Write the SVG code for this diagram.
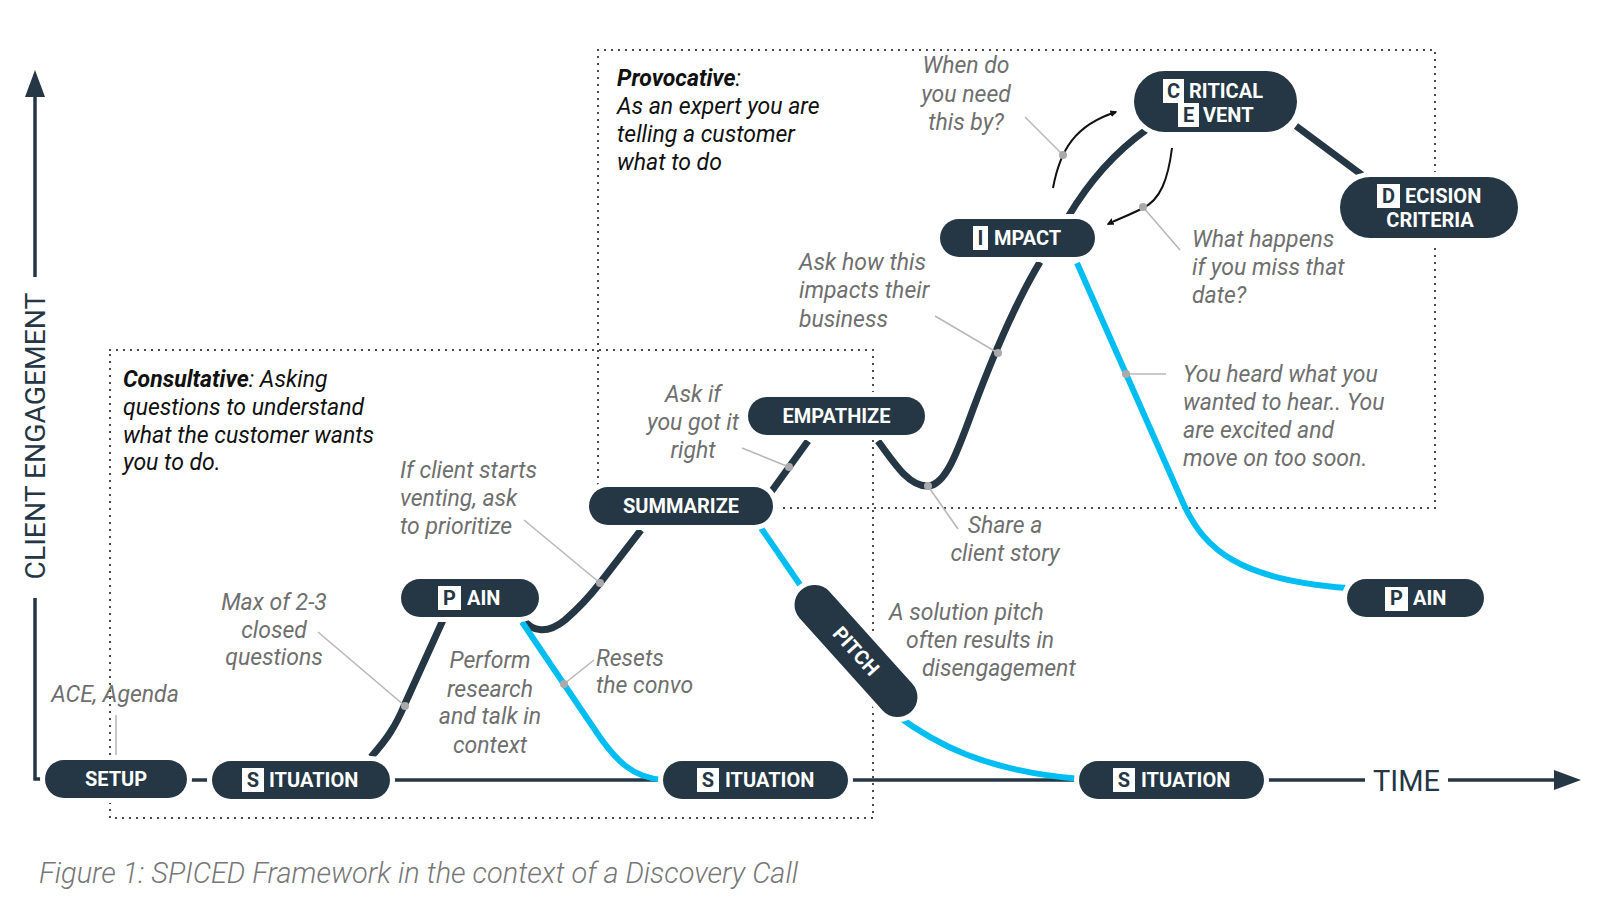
<svg xmlns="http://www.w3.org/2000/svg" width="1600" height="906" viewBox="0 0 1600 906">
<style>
.pill{fill:#253744;stroke:#fff;stroke-width:10;paint-order:stroke}
.pt{font-family:Roboto,"Liberation Sans",sans-serif;font-weight:700;font-size:20px;fill:#fff}
.c{text-anchor:middle}
.lb{fill:#fff}
.lt{font-family:Roboto,"Liberation Sans",sans-serif;font-weight:700;font-size:20px;fill:#253744;text-anchor:middle}
.dark{fill:none;stroke:#253744;stroke-width:7}
.cyan{fill:none;stroke:#00bef2;stroke-width:6}
.base{fill:none;stroke:#253744;stroke-width:3.5}
.lead{stroke:#b8b8b8;stroke-width:1.6;fill:none}
.dot{fill:#aaaaaa}
.ann{font-family:Roboto,"Liberation Sans",sans-serif;font-style:italic;font-size:23px;fill:#6f6f6f}
.blk{font-family:Roboto,"Liberation Sans",sans-serif;font-style:italic;font-size:23px;fill:#111}
.box{fill:none;stroke:#222;stroke-width:2.2;stroke-dasharray:0 7;stroke-linecap:round}
.thin{fill:none;stroke:#111;stroke-width:2}
</style>
<defs>
<marker id="ah" viewBox="0 0 10 10" refX="8" refY="5" markerWidth="7" markerHeight="7" orient="auto" markerUnits="userSpaceOnUse">
<path d="M0,0 L10,5 L0,10 z" fill="#111"/>
</marker>
</defs>
<rect width="1600" height="906" fill="#fff"/>

<g id="regions">
<rect class="box" x="110" y="350" width="763" height="468"/>
<rect class="box" x="598" y="50" width="837" height="458"/>
</g>

<g id="axes">
<path class="base" d="M45,779 H35 V598"/>
<path class="base" d="M35,277 V95"/>
<path d="M25,97 L35,70 L45,97 z" fill="#253744"/>
<text transform="translate(45,436) rotate(-90)" text-anchor="middle" font-family="Roboto,'Liberation Sans',sans-serif" font-size="28" fill="#253744" textLength="287" lengthAdjust="spacingAndGlyphs">CLIENT ENGAGEMENT</text>
<path class="base" d="M1264,780 H1365"/>
<path class="base" d="M1448,780 H1556"/>
<path d="M1554,770 L1581,780 L1554,790 z" fill="#253744"/>
<text x="1373" y="791" font-family="Roboto,'Liberation Sans',sans-serif" font-size="29" fill="#253744">TIME</text>
</g>

<g id="connectors">
<path class="base" d="M187,780 H1080"/>
<path class="dark" d="M371,757 C388,738 396,725 404,706 L443,620"/>
<path class="dark" d="M524,620 C532,632 548,634 565,620 C580,607 590,596 600,583 L641,530"/>
<path class="dark" d="M771,492 L808,441"/>
<path class="dark" d="M878,441 C896,466 910,487 928,486 C946,485 958,450 972,412 C985,377 1010,312 1040,262"/>
<path class="dark" d="M1068,217 Q1100,163 1146,130"/>
<path class="dark" d="M1296,126 L1362,175"/>
<path class="cyan" d="M522,622 L595,730 C615,760 632,778 664,780"/>
<path class="cyan" d="M761,528 L805,592"/>
<path class="cyan" d="M895,714 C935,744 985,771 1080,779"/>
<path class="cyan" d="M1077,263 L1184,505 C1205,550 1240,580 1348,588"/>
<path class="thin" d="M1053,188 C1060,150 1075,125 1116,112" marker-end="url(#ah)"/>
<path class="thin" d="M1172,148 C1168,180 1160,200 1143,208 C1130,215 1120,218 1108,224" marker-end="url(#ah)"/>
</g>

<g id="leaders">
<line class="lead" x1="116" y1="715" x2="116" y2="757"/>
<line class="lead" x1="318" y1="632" x2="405" y2="706"/>
<line class="lead" x1="524" y1="520" x2="600" y2="583"/>
<line class="lead" x1="594" y1="660" x2="564" y2="684"/>
<line class="lead" x1="742" y1="448" x2="789" y2="467"/>
<line class="lead" x1="935" y1="316" x2="998" y2="353"/>
<line class="lead" x1="928" y1="486" x2="958" y2="529"/>
<line class="lead" x1="1025" y1="117" x2="1063" y2="155"/>
<line class="lead" x1="1143" y1="207" x2="1180" y2="250"/>
<line class="lead" x1="1126" y1="374" x2="1166" y2="374"/>
<circle class="dot" cx="405" cy="706" r="4"/>
<circle class="dot" cx="600" cy="583" r="4"/>
<circle class="dot" cx="564" cy="684" r="4"/>
<circle class="dot" cx="789" cy="467" r="4"/>
<circle class="dot" cx="998" cy="353" r="4"/>
<circle class="dot" cx="928" cy="486" r="4"/>
<circle class="dot" cx="1063" cy="155" r="4"/>
<circle class="dot" cx="1143" cy="207" r="4"/>
<circle class="dot" cx="1126" cy="374" r="4"/>
</g>

<g id="setup"><rect class="pill" x="45" y="760" width="142" height="38" rx="19"/><text class="pt c" x="116" y="786">SETUP</text></g>
<g id="situation1"><rect class="pill" x="212" y="761" width="178" height="38" rx="19"/><rect class="lb" x="242" y="768" width="22" height="24"/><text class="lt" x="253" y="787">S</text><text class="pt" x="269" y="787">ITUATION</text></g>
<g id="pain1"><rect class="pill" x="401" y="579" width="138" height="38" rx="19"/><rect class="lb" x="438" y="586" width="23" height="24"/><text class="lt" x="449.5" y="605">P</text><text class="pt" x="467" y="605">AIN</text></g>
<g id="summarize"><rect class="pill" x="589" y="487" width="184" height="38" rx="19"/><text class="pt c" x="681" y="513">SUMMARIZE</text></g>
<g id="empathize"><rect class="pill" x="748" y="397" width="177" height="38" rx="19"/><text class="pt c" x="836.5" y="423">EMPATHIZE</text></g>
<g id="impact"><rect class="pill" x="940" y="219" width="155" height="38" rx="19"/><rect class="lb" x="973" y="226" width="15" height="24"/><text class="lt" x="980.5" y="245">I</text><text class="pt" x="994" y="245">MPACT</text></g>
<g id="critical-event"><rect class="pill" x="1134" y="71" width="163" height="61" rx="30.5"/><rect class="lb" x="1163" y="79" width="21" height="24"/><text class="lt" x="1173.5" y="98">C</text><text class="pt" x="1189" y="98">RITICAL</text><rect class="lb" x="1178" y="103" width="21" height="24"/><text class="lt" x="1188.5" y="122">E</text><text class="pt" x="1203" y="122">VENT</text></g>
<g id="decision-criteria"><rect class="pill" x="1340" y="177" width="178" height="61" rx="30.5"/><rect class="lb" x="1377" y="184" width="23" height="24"/><text class="lt" x="1388.5" y="203">D</text><text class="pt" x="1405" y="203">ECISION</text><text class="pt c" x="1430" y="227">CRITERIA</text></g>
<g id="situation2"><rect class="pill" x="663" y="761" width="185" height="38" rx="19"/><rect class="lb" x="697" y="768" width="22" height="24"/><text class="lt" x="708" y="787">S</text><text class="pt" x="725" y="787">ITUATION</text></g>
<g id="pitch" transform="translate(856,651) rotate(48)"><rect class="pill" x="-82" y="-20" width="164" height="40" rx="20"/><text class="pt c" x="0" y="7">PITCH</text></g>
<g id="situation3"><rect class="pill" x="1079" y="761" width="185" height="38" rx="19"/><rect class="lb" x="1113" y="768" width="22" height="24"/><text class="lt" x="1124" y="787">S</text><text class="pt" x="1141" y="787">ITUATION</text></g>
<g id="pain2"><rect class="pill" x="1347" y="579" width="137" height="38" rx="19"/><rect class="lb" x="1385" y="587" width="23" height="24"/><text class="lt" x="1396.5" y="605">P</text><text class="pt" x="1413" y="605">AIN</text></g>

<g id="annotations">
<text class="blk" x="123" y="387"><tspan font-weight="700">Consultative</tspan>: Asking</text>
<text class="blk" x="123" y="415">questions to understand</text>
<text class="blk" x="123" y="443">what the customer wants</text>
<text class="blk" x="123" y="470">you to do.</text>
<text class="blk" x="617" y="86"><tspan font-weight="700">Provocative</tspan>:</text>
<text class="blk" x="617" y="114">As an expert you are</text>
<text class="blk" x="617" y="142">telling a customer</text>
<text class="blk" x="617" y="170">what to do</text>
<text class="ann c" x="115" y="702">ACE, Agenda</text>
<text class="ann c" x="274" y="610">Max of 2-3</text>
<text class="ann c" x="274" y="638">closed</text>
<text class="ann c" x="274" y="665">questions</text>
<text class="ann" x="400" y="478">If client starts</text>
<text class="ann" x="400" y="506">venting, ask</text>
<text class="ann" x="400" y="534">to prioritize</text>
<text class="ann c" x="490" y="668">Perform</text>
<text class="ann c" x="490" y="697">research</text>
<text class="ann c" x="490" y="724">and talk in</text>
<text class="ann c" x="490" y="753">context</text>
<text class="ann" x="596" y="666">Resets</text>
<text class="ann" x="596" y="693">the convo</text>
<text class="ann c" x="693" y="402">Ask if</text>
<text class="ann c" x="693" y="430">you got it</text>
<text class="ann c" x="693" y="458">right</text>
<text class="ann c" x="1005" y="533">Share a</text>
<text class="ann c" x="1005" y="561">client story</text>
<text class="ann" x="889" y="620">A solution pitch</text>
<text class="ann" x="906" y="648">often results in</text>
<text class="ann" x="922" y="676">disengagement</text>
<text class="ann" x="799" y="270">Ask how this</text>
<text class="ann" x="799" y="298">impacts their</text>
<text class="ann" x="799" y="327">business</text>
<text class="ann c" x="966" y="73">When do</text>
<text class="ann c" x="966" y="102">you need</text>
<text class="ann c" x="966" y="130">this by?</text>
<text class="ann" x="1192" y="247">What happens</text>
<text class="ann" x="1192" y="275">if you miss that</text>
<text class="ann" x="1192" y="303">date?</text>
<text class="ann" x="1183" y="382">You heard what you</text>
<text class="ann" x="1183" y="410">wanted to hear.. You</text>
<text class="ann" x="1183" y="438">are excited and</text>
<text class="ann" x="1183" y="466">move on too soon.</text>
</g>

<text x="39" y="883" font-family="Roboto,'Liberation Sans',sans-serif" font-style="italic" font-weight="300" font-size="29" fill="#777" textLength="759" lengthAdjust="spacingAndGlyphs">Figure 1: SPICED Framework in the context of a Discovery Call</text>
</svg>
